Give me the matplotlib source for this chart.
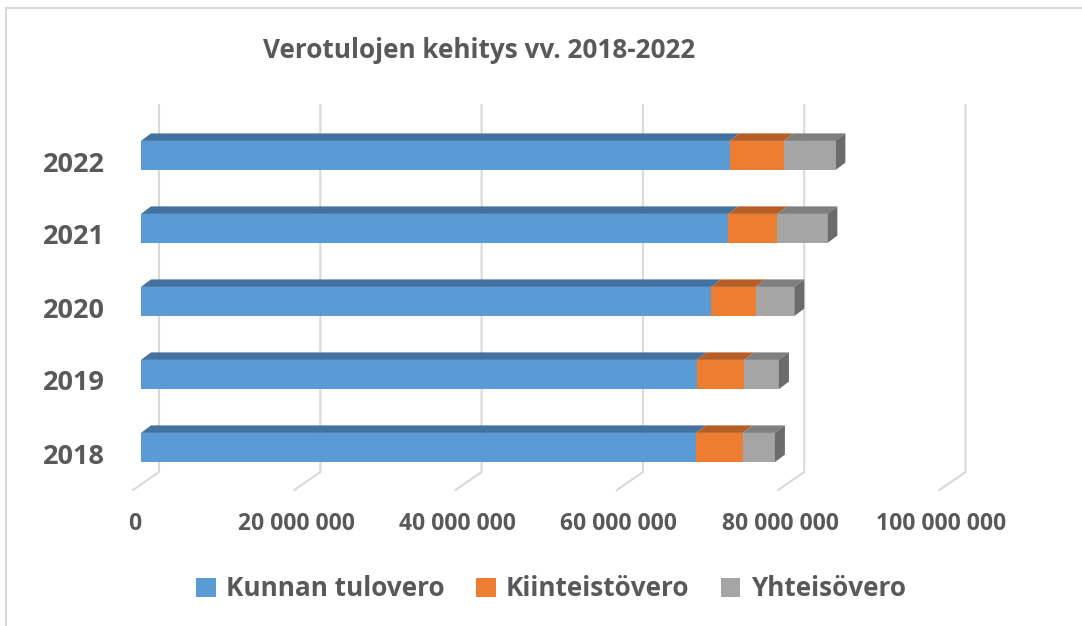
import matplotlib.pyplot as plt
from matplotlib.patches import Polygon, Rectangle
import numpy as np

plt.rcParams['font.family'] = ['Open Sans', 'DejaVu Sans']
plt.rcParams['font.weight'] = 'bold'

# values (euros)
years = ['2018', '2019', '2020', '2021', '2022']
kunnan_tulovero = [68.8e6, 68.9e6, 70.7e6, 72.8e6, 73.0e6]
kiinteistovero = [5.8e6, 5.9e6, 5.5e6, 6.1e6, 6.7e6]
yhteisovero = [4.0e6, 4.3e6, 4.8e6, 6.2e6, 6.4e6]
series_names = ['Kunnan tulovero', 'Kiinteistövero', 'Yhteisövero']
xticks = [0, 20e6, 40e6, 60e6, 80e6, 100e6]

front_col = ['#5B9BD5', '#ED7D31', '#A5A5A5']
top_col = ['#4472A0', '#B55F26', '#7F7F7F']
side_col = '#6B6B6B'
text_col = '#595959'
grid_col = '#D9D9D9'

W, H = 1082, 626
# layout of the pseudo 3d chart in pixels
X0 = 141.0            # pixel of value 0 on the bar front plane
PXU = 161.3 / 20e6    # pixels per euro
Y0 = 447.5            # pixel row of the first category
STEP = 73.0           # pixels between categories


def dx(px):
    return px / PXU


def dy(px):
    return px / STEP


def row(r):
    # pixel row (from top) -> category coordinate
    return (Y0 - r) / STEP


fig = plt.figure(figsize=(W / 100, H / 100), dpi=100)
ax = fig.add_axes([0, 0, 1, 1])
ax.set_xlim(-X0 / PXU, (W - X0) / PXU)
ax.set_ylim(row(H), row(0))
ax.axis('off')

# outer chart border (runs off the right and bottom of the image)
ax.add_patch(Rectangle((dx(6 - X0), row(W)), dx(W + 50), row(8) - row(W),
                       fill=False, ec=grid_col, lw=1.5, zorder=0))

# back wall gridlines and floor ticks
for v in xticks:
    ax.plot([v + dx(18), v + dx(18), v - dx(8)],
            [row(105), row(472), row(490)], color=grid_col, lw=1.5,
            solid_joinstyle='miter', zorder=1)
    lab = '0' if v == 0 else f'{int(v):,}'.replace(',', ' ')
    ax.text(v - dx(6), row(524), lab, ha='center', va='center',
            fontsize=16.5, color=text_col, fontweight='bold')

ypos = np.arange(len(years))
bh = 0.4
ddx, ddy = dx(10), dy(7.5)
series = [kunnan_tulovero, kiinteistovero, yhteisovero]
left = np.zeros(len(years))
handles = []
for i, vals in enumerate(series):
    vals = np.array(vals)
    bars = ax.barh(ypos, vals, left=left, height=bh, color=front_col[i],
                   zorder=3, label=series_names[i])
    handles.append(bars)
    for y, l, w in zip(ypos, left, vals):
        yt = y + bh / 2
        ax.add_patch(Polygon([(l, yt), (l + w, yt), (l + w + ddx, yt + ddy),
                              (l + ddx, yt + ddy)], closed=True,
                             fc=top_col[i], ec='none', zorder=3))
        if i == len(series) - 1:
            r = l + w
            ax.add_patch(Polygon([(r, yt), (r + ddx, yt + ddy),
                                  (r + ddx, yt + ddy - bh), (r, yt - bh)],
                                 closed=True, fc=side_col, ec='none', zorder=3))
    left = left + vals

for y, name in zip(ypos, years):
    ax.text(dx(105 - X0), y - dy(9), name, ha='right', va='center',
            fontsize=19.5, color=text_col, fontweight='bold')

fig.text(479.5 / W, 1 - 51 / H, 'Verotulojen kehitys vv. 2018-2022',
         ha='center', va='center', fontsize=18.8, color=text_col,
         fontweight='bold')

leg = fig.legend(handles=handles, loc='center', bbox_to_anchor=(551 / W, 1 - 589 / H),
                 ncol=3, frameon=False, fontsize=18.8, handlelength=0.75,
                 handleheight=0.75, handletextpad=0.4, columnspacing=1.2)
for t in leg.get_texts():
    t.set_color(text_col)
    t.set_fontweight('bold')

fig.savefig('out.png', dpi=100)
